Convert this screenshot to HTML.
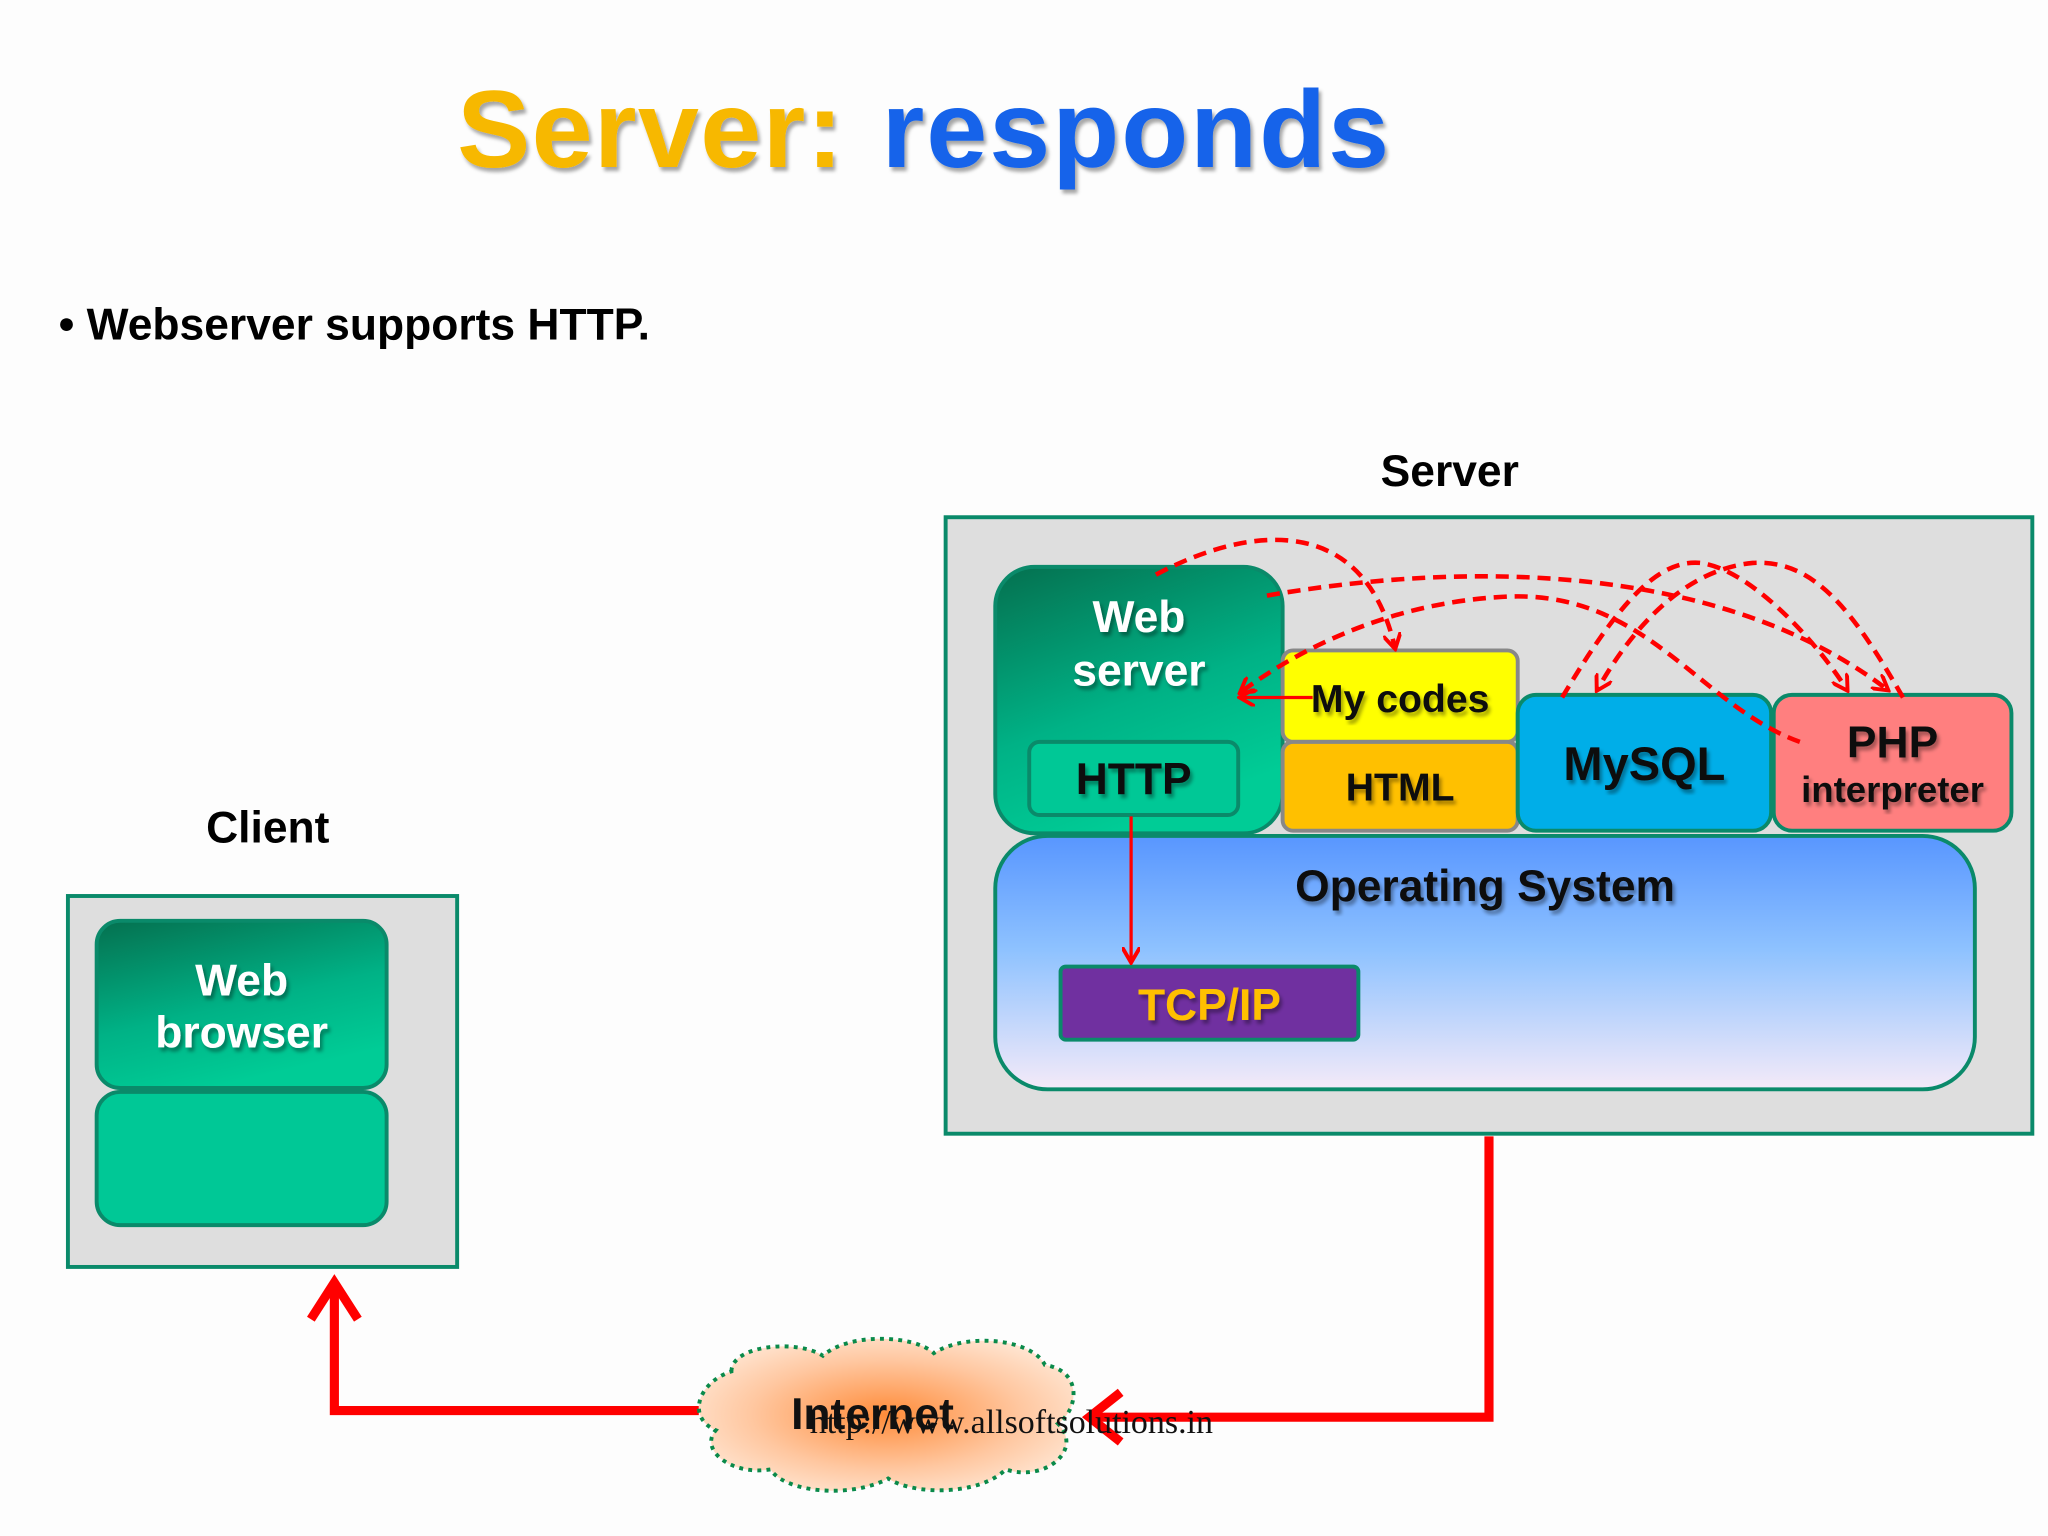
<!DOCTYPE html>
<html><head><meta charset="utf-8"><style>
html,body{margin:0;padding:0;background:#fff;}
svg{display:block;}
text{font-family:"Liberation Sans",sans-serif;font-weight:bold;}
</style></head><body>
<svg width="2048" height="1536" viewBox="0 0 1568 1176" xmlns="http://www.w3.org/2000/svg">
<defs>
<linearGradient id="gws" x1="0" y1="0" x2="0.4" y2="1"><stop offset="0" stop-color="#05704f"/><stop offset="0.6" stop-color="#00b286"/><stop offset="1" stop-color="#00cc96"/></linearGradient>
<linearGradient id="gos" x1="0" y1="0" x2="0" y2="1"><stop offset="0" stop-color="#5896ff"/><stop offset="0.45" stop-color="#8ec2ff"/><stop offset="1" stop-color="#f4eaf8"/></linearGradient>
<radialGradient id="gcl" cx="0.5" cy="0.5" r="0.6"><stop offset="0" stop-color="#ff8c3a"/><stop offset="0.6" stop-color="#ffc7a0"/><stop offset="1" stop-color="#ffe9d8"/></radialGradient>
<marker id="ar" markerWidth="14" markerHeight="14" refX="11" refY="7" orient="auto" markerUnits="userSpaceOnUse"><path d="M0,0 L12,7 L0,14" fill="none" stroke="#f00" stroke-width="3"/></marker>
<filter id="sh"><feDropShadow dx="2" dy="3" stdDeviation="1.5" flood-color="#000" flood-opacity="0.35"/></filter>
</defs>
<rect width="1568" height="1176" fill="#fdfdfd"/>
<g filter="url(#sh)">
<text x="350" y="128" font-size="84" fill="#f7b800" letter-spacing="1">Server:</text>
<text x="675" y="128" font-size="84" fill="#1464ea" letter-spacing="1.5">responds</text>
</g>
<text x="45" y="260" font-size="34" fill="#000" font-weight="bold">• Webserver supports HTTP.</text>
<text x="1110" y="372" font-size="34" text-anchor="middle" fill="#000">Server</text>
<text x="205" y="645" font-size="34" text-anchor="middle" fill="#000">Client</text>

<rect x="724" y="396" width="832" height="472" fill="#dedede" stroke="#0a8a6a" stroke-width="3"/>
<rect x="52" y="686" width="298" height="284" fill="#dedede" stroke="#0a8a6a" stroke-width="3"/>

<rect x="74" y="705" width="222" height="128" rx="18" fill="url(#gws)" stroke="#0a8a6a" stroke-width="3"/>
<rect x="74" y="836" width="222" height="102" rx="18" fill="#00c896" stroke="#0a8a6a" stroke-width="3"/>
<g filter="url(#sh)" fill="#fff" font-size="34" text-anchor="middle">
<text x="185" y="762">Web</text><text x="185" y="802">browser</text></g>

<rect x="762" y="640" width="750" height="194" rx="40" fill="url(#gos)" stroke="#0a8a6a" stroke-width="3"/>
<text x="1137" y="690" font-size="34" text-anchor="middle" fill="#111" filter="url(#sh)">Operating System</text>
<rect x="812" y="740" width="228" height="56" rx="4" fill="#7030a0" stroke="#0a8a6a" stroke-width="3"/>
<text x="926" y="781" font-size="34" text-anchor="middle" fill="#ffc000" filter="url(#sh)">TCP/IP</text>

<rect x="762" y="434" width="220" height="204" rx="30" fill="url(#gws)" stroke="#0a8a6a" stroke-width="3"/>
<g filter="url(#sh)" fill="#fff" font-size="34" text-anchor="middle">
<text x="872" y="484">Web</text><text x="872" y="525">server</text></g>
<rect x="788" y="568" width="160" height="56" rx="8" fill="#00c896" stroke="#0a8a6a" stroke-width="3"/>
<text x="868" y="608" font-size="34" text-anchor="middle" fill="#111" filter="url(#sh)">HTTP</text>

<rect x="982" y="498" width="180" height="70" rx="8" fill="#ffff00" stroke="#888" stroke-width="3"/>
<text x="1072" y="545" font-size="30" text-anchor="middle" fill="#111" filter="url(#sh)">My codes</text>
<rect x="982" y="568" width="180" height="68" rx="8" fill="#ffc000" stroke="#888" stroke-width="3"/>
<text x="1072" y="613" font-size="30" text-anchor="middle" fill="#111" filter="url(#sh)">HTML</text>
<rect x="1162" y="532" width="194" height="104" rx="14" fill="#00aee8" stroke="#0a8a6a" stroke-width="3"/>
<text x="1259" y="597" font-size="36" text-anchor="middle" fill="#111" filter="url(#sh)">MySQL</text>
<rect x="1358" y="532" width="182" height="104" rx="14" fill="#ff7f7f" stroke="#0a8a6a" stroke-width="3"/>
<text x="1449" y="580" font-size="34" text-anchor="middle" fill="#111" filter="url(#sh)">PHP</text>
<text x="1449" y="614" font-size="28" text-anchor="middle" fill="#111" filter="url(#sh)">interpreter</text>

<g fill="none" stroke="#f00" stroke-width="3.5" stroke-dasharray="10,6">
<path d="M885,440 C960,400 1045,395 1068,496" marker-end="url(#ar)"/>
<path d="M970,456 C1150,425 1330,440 1445,528" marker-end="url(#ar)"/>
<path d="M1378,568 C1300,540 1260,450 1150,457 C1060,462 990,500 950,530" marker-end="url(#ar)"/>
<path d="M1196,534 C1240,460 1270,428 1302,431 C1340,436 1390,490 1414,528" marker-end="url(#ar)"/>
<path d="M1457,534 C1420,470 1390,428 1342,431 C1290,436 1250,480 1223,528" marker-end="url(#ar)"/>
</g>
<line x1="1005" y1="534" x2="950" y2="534" stroke="#f00" stroke-width="2.5" marker-end="url(#ar)"/>
<line x1="866" y1="625" x2="866" y2="736" stroke="#f00" stroke-width="2.5" marker-end="url(#ar)"/>

<path d="M1140,870 L1140,1085 L836,1085" fill="none" stroke="#f00" stroke-width="7"/>
<path d="M858,1066 L834,1085 L858,1104" fill="none" stroke="#f00" stroke-width="7"/>
<path d="M535,1080 L256,1080 L256,982" fill="none" stroke="#f00" stroke-width="7"/>
<path d="M238,1010 L256,982 L274,1010" fill="none" stroke="#f00" stroke-width="7"/>

<path d="M560,1050 C560,1030 610,1025 630,1038 C650,1020 700,1022 715,1036 C740,1020 790,1025 800,1045 C830,1050 825,1080 810,1090 C830,1110 800,1135 770,1125 C750,1145 700,1145 680,1132 C650,1148 600,1142 590,1125 C560,1130 535,1110 548,1095 C525,1085 535,1058 560,1050 Z" fill="url(#gcl)" stroke="#0a8a4a" stroke-width="3" stroke-dasharray="3,4"/>
<text x="668" y="1094" font-size="34" text-anchor="middle" fill="#111">Internet</text>
<text x="620" y="1097" font-size="26" fill="#111" style="font-family:'Liberation Serif',serif;font-weight:normal">http://www.allsoftsolutions.in</text>
</svg>
</body></html>
